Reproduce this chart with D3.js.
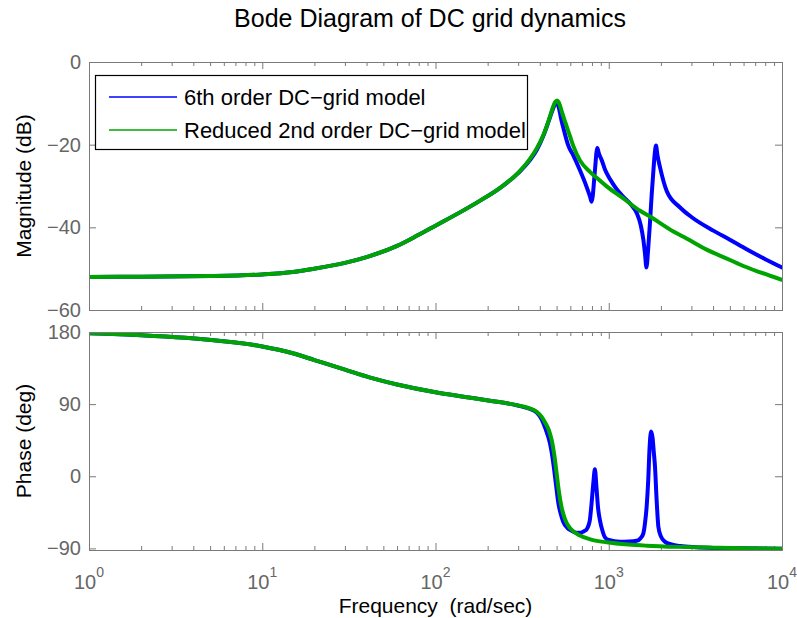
<!DOCTYPE html>
<html><head><meta charset="utf-8">
<script src="https://cdn.jsdelivr.net/npm/d3@7"></script>
<style>
body{margin:0;background:#fff}
svg{display:block;font-family:"Liberation Sans",Arial,Helvetica,sans-serif}
</style>
</head><body>
<svg id="c" width="797" height="618"></svg>
<script>
// ---------- data ----------
const seriesNames = ["6th order DC\u2212grid model", "Reduced 2nd order DC\u2212grid model"];
const seriesColors = ["#0000ff", "#00a400"];

// 6th order model, magnitude
const fullMagFreq = [1,2,5,10,15,20,30,40,60,80,100,145,180,235,300,350,384,420,450,474,490,498,510,534,546,585,624,682,745,780,796,808,820,835,850,859,875,910,951,1016,1100,1213,1350,1449,1530,1584,1620,1650,1690,1729,1770,1806,1840,1874,1910,1977,2160,2580,3000,4012,5000,6250,8000,10000];
const fullMagDb   = [-52.0,-51.95,-51.8,-51.4,-50.8,-50.0,-48.6,-47.2,-44.5,-41.8,-39.6,-35.9,-33.6,-30.5,-26.9,-23.8,-21.3,-17.8,-14.3,-11.6,-10.2,-9.8,-10.4,-14.2,-15.8,-20.3,-22.6,-26.2,-30.2,-32.6,-33.8,-32.5,-29.5,-25.5,-21.8,-20.8,-22.0,-23.7,-26.0,-28.3,-30.5,-32.6,-34.6,-36.5,-39.5,-43.0,-46.5,-49.7,-45.0,-39.0,-32.0,-26.9,-22.5,-20.2,-22.5,-25.5,-31.2,-35.2,-37.5,-40.8,-43.0,-45.3,-47.7,-49.7];

// reduced 2nd order model, magnitude
const redMagFreq = [1,2,5,10,15,20,30,40,60,80,100,145,180,235,300,350,384,420,438,460,474,490,503,515,534,555,571,600,624,682,779,851,973,1213,1516,1729,2361,2812,3673,5012,5717,7500,10000];
const redMagDb   = [-52.0,-51.95,-51.8,-51.4,-50.8,-50.0,-48.6,-47.2,-44.5,-41.8,-39.6,-35.9,-33.6,-30.5,-26.8,-23.5,-20.9,-17.6,-15.6,-12.9,-11.2,-9.7,-9.3,-9.8,-11.8,-14.0,-15.5,-18.2,-20.3,-23.8,-26.6,-28.0,-30.1,-33.0,-36.0,-37.4,-41.0,-42.7,-45.4,-47.9,-49.0,-50.9,-52.7];

// 6th order model, phase
const fullPhFreq = [1,2,3.6,5.6,10,15,20,30,42,60,100,145,206,294,340,384,410,430,458,470,483,497,512,530,546,575,611,650,690,720,745,765,778,795,815,832,850,868,889,920,951,1000,1161,1300,1449,1530,1584,1620,1655,1690,1720,1754,1790,1820,1849,1890,1934,2000,2115,2300,2580,3200,4012,6000,10000];
const fullPhDeg  = [178.3,176,172.7,169,162,153.5,145,133,123,114.5,104.8,99.3,94.3,88.6,85,79.5,71,60,41,28,10,-12,-33.7,-48,-56.7,-64,-68,-70.5,-70.5,-68.5,-66.3,-61,-54.6,-35,-8,8.7,-15,-40,-54.6,-68,-76.2,-79.5,-81.8,-81.5,-80.5,-77,-71.3,-58,-38,-5,35,55.8,48,30,12,-30,-63,-75,-81.8,-85,-87.1,-88.6,-89.4,-89.9,-90.4];

// reduced 2nd order model, phase
const redPhFreq = [1,2,3.6,5.6,10,15,20,30,42,60,100,145,206,294,340,384,410,428,450,468,485,500,515,534,555,571,600,682,800,973,1300,1655,2500,4012,6000,10000];
const redPhDeg  = [178.3,176,172.7,169,162,153.5,145,133,123,114.5,104.8,99.3,94.3,88.8,85.5,80.5,74,67.5,58,45.5,26.5,4,-18.5,-38.5,-51.5,-58,-65,-74,-79.3,-82.4,-85.2,-86.6,-88.1,-89.1,-89.7,-90.3];

// axis ticks
const xMajorTicks = [1,10,100,1000,10000];
const xExponents  = ["0","1","2","3","4"];
const magTicks = [-60,-40,-20,0];
const magTickLabels = ["\u221260","\u221240","\u221220","0"];
const phTicks = [-90,0,90,180];
const phTickLabels = ["\u221290","0","90","180"];

// ---------- drawing ----------
const svg = d3.select("#c");
const X0 = 89, X1 = 782;
const MAG = {top: 62, bottom: 310};
const PH  = {top: 332, bottom: 550};
const axisColor = "#7a7a7a", labelColor = "#666666";

const x = d3.scaleLog().domain([1, 1e4]).range([X0, X1]);
const yMag = d3.scaleLinear().domain([-60, 0]).range([MAG.bottom, MAG.top]);
const yPh = d3.scaleLinear().domain([-92, 180]).range([PH.bottom, PH.top]);

const xMinorTicks = [];
for (let d = 0; d < 4; d++) for (let k = 2; k <= 9; k++) xMinorTicks.push(k * Math.pow(10, d));

function drawPanel(y, p, ticks, labels, clipId) {
  const g = svg.append("g");
  g.append("rect").attr("x", X0).attr("y", p.top).attr("width", X1 - X0).attr("height", p.bottom - p.top)
    .attr("fill", "#fff");
  const mk = (axisFn, vals, len, ty) => {
    const a = g.append("g").attr("transform", `translate(0,${ty})`)
      .call(axisFn(x).tickValues(vals).tickSize(len).tickSizeOuter(0).tickFormat(""));
    a.select(".domain").remove();
    a.selectAll("line").attr("stroke", axisColor);
  };
  mk(d3.axisBottom, xMajorTicks, -7, p.bottom);
  mk(d3.axisBottom, xMinorTicks, -4, p.bottom);
  mk(d3.axisTop, xMajorTicks, -7, p.top);
  mk(d3.axisTop, xMinorTicks, -4, p.top);
  const yl = g.append("g").attr("transform", `translate(${X0},0)`)
    .call(d3.axisLeft(y).tickValues(ticks).tickSize(-7).tickSizeOuter(0).tickPadding(8)
      .tickFormat((d, i) => labels[i]));
  yl.select(".domain").remove();
  yl.selectAll("line").attr("stroke", axisColor);
  yl.selectAll("text").attr("fill", labelColor).attr("font-size", 20)
    .attr("font-family", '"Liberation Sans",Arial,sans-serif');
  const yr = g.append("g").attr("transform", `translate(${X1},0)`)
    .call(d3.axisRight(y).tickValues(ticks).tickSize(-7).tickSizeOuter(0).tickFormat(""));
  yr.select(".domain").remove();
  yr.selectAll("line").attr("stroke", axisColor);
  svg.append("clipPath").attr("id", clipId).append("rect")
    .attr("x", X0).attr("y", p.top).attr("width", X1 - X0).attr("height", p.bottom - p.top);
  return g;
}

function drawBox(p) {
  svg.append("rect").attr("x", X0 + 0.5).attr("y", p.top + 0.5)
    .attr("width", X1 - X0).attr("height", p.bottom - p.top)
    .attr("fill", "none").attr("stroke", axisColor).attr("stroke-width", 1);
}

drawPanel(yMag, MAG, magTicks, magTickLabels, "clipMag");
drawPanel(yPh, PH, phTicks, phTickLabels, "clipPh");

function plotLine(freqs, vals, y, color, clipId) {
  const pts = freqs.map((f, i) => [x(f), y(vals[i])]);
  svg.append("path").attr("d", d3.line().curve(d3.curveMonotoneX)(pts))
    .attr("fill", "none").attr("stroke", color).attr("stroke-width", 4)
    .attr("stroke-linejoin", "round").attr("stroke-linecap", "round")
    .attr("clip-path", `url(#${clipId})`);
}

plotLine(fullMagFreq, fullMagDb, yMag, seriesColors[0], "clipMag");
plotLine(redMagFreq, redMagDb, yMag, seriesColors[1], "clipMag");
plotLine(fullPhFreq, fullPhDeg, yPh, seriesColors[0], "clipPh");
plotLine(redPhFreq, redPhDeg, yPh, seriesColors[1], "clipPh");

drawBox(MAG);
drawBox(PH);

// x tick labels (bottom panel)
xMajorTicks.forEach((v, i) => {
  const t = svg.append("text").attr("x", x(v)).attr("y", 589).attr("text-anchor", "middle")
    .attr("fill", labelColor).attr("font-size", 20);
  t.append("tspan").text("10");
  t.append("tspan").attr("dy", -12).attr("font-size", 14).text(xExponents[i]);
});

// legend
const lg = svg.append("g");
lg.append("rect").attr("x", 95.5).attr("y", 75.5).attr("width", 432).attr("height", 74)
  .attr("fill", "#fff").attr("stroke", "#000").attr("stroke-width", 1.2);
[97, 130].forEach((yy, i) => {
  lg.append("line").attr("x1", 109).attr("x2", 177).attr("y1", yy).attr("y2", yy)
    .attr("stroke", seriesColors[i]).attr("stroke-width", 1.6);
  lg.append("text").attr("x", 184).attr("y", yy + 8).attr("font-size", 22).attr("fill", "#000")
    .text(seriesNames[i]);
});

// titles
svg.append("text").attr("x", 430).attr("y", 27).attr("text-anchor", "middle")
  .attr("font-size", 25).attr("fill", "#000").text("Bode Diagram of DC grid dynamics");
svg.append("text").attr("x", (X0 + X1) / 2).attr("y", 613).attr("text-anchor", "middle")
  .attr("font-size", 21).attr("fill", "#000").style("white-space", "pre").text("Frequency  (rad/sec)");
svg.append("text").attr("transform", `translate(31,${(MAG.top + MAG.bottom) / 2}) rotate(-90)`)
  .attr("text-anchor", "middle").attr("font-size", 21).attr("fill", "#000").text("Magnitude (dB)");
svg.append("text").attr("transform", `translate(31,${(PH.top + PH.bottom) / 2}) rotate(-90)`)
  .attr("text-anchor", "middle").attr("font-size", 21).attr("fill", "#000").text("Phase (deg)");
</script>
</body></html>
